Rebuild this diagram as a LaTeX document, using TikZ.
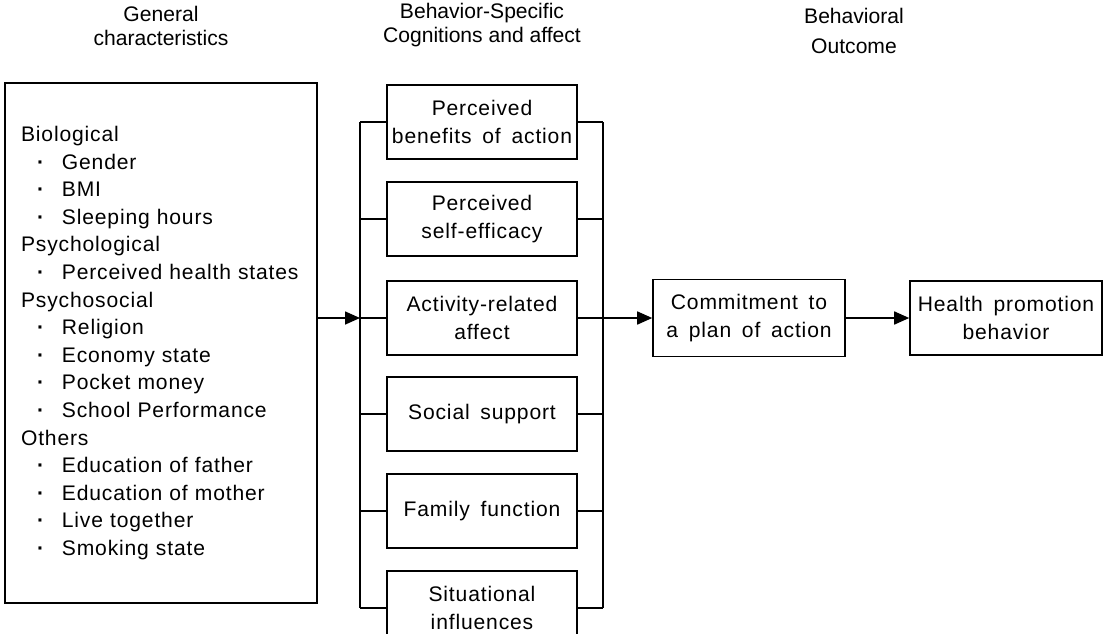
\documentclass[tikz,border=0pt]{standalone}
\usepackage{fontspec}
\setmainfont{Liberation Sans}
\newfontfamily\boxfont{Liberation Sans}[LetterSpace=4, WordSpace=1.6]
\usetikzlibrary{arrows.meta}
\tikzset{
  box/.style={draw, line width=0.032cm, minimum width=3.8cm, minimum height=1.48cm,
    align=center, inner sep=0pt, font=\boxfont\fontsize{12}{15.7}\selectfont},
  heading/.style={align=center, font=\fontsize{12}{13.2}\selectfont},
  link/.style={line width=0.032cm},
  arrowlink/.style={link, -{Triangle[length=0.3cm,width=0.26cm]}}
}
\newcommand{\itm}[1]{\hspace*{0.32cm}\textbf{·}\hspace{0.34cm}#1}
\begin{document}
\begin{tikzpicture}[x=0.02cm, y=-0.02cm]
                \useasboundingbox (0,0) rectangle (1106,633);
                
                % Headings
                \node [heading] (h general) at (161,26) {General\\characteristics};
                \node [heading] (h specific) at (482,25) {Behavior-Specific\\Cognitions and affect};
                \node [heading, font=\fontsize{12}{17}\selectfont] (h outcome) at (854,31) {Behavioral\\Outcome};
                
                % Drawing box of general characteristics
                \node [box, minimum width=6.24cm, minimum height=10.4cm, text width=5.6cm, align=left] (general) at (161,343)
                  {Biological\\ \itm{Gender}\\ \itm{BMI}\\ \itm{Sleeping hours}\\
                   Psychological\\ \itm{Perceived health states}\\
                   Psychosocial\\ \itm{Religion}\\ \itm{Economy state}\\ \itm{Pocket money}\\ \itm{School Performance}\\
                   Others\\ \itm{Education of father}\\ \itm{Education of mother}\\ \itm{Live together}\\ \itm{Smoking state}};
                
                % Drawing boxes of cognitions and affect
                \node [box] (benefits) at (482,122) {Perceived\\benefits of action};
                \node [box] (efficacy) at (482,219) {Perceived\\self-efficacy};
                \node [box] (affect) at (482,318) {Activity-related\\affect};
                \node [box] (support) at (482,414) {Social support};
                \node [box] (family) at (482,511) {Family function};
                \node [box] (situation) at (482,608) {Situational\\influences};
                
                % Drawing boxes of outcome
                \node [box, minimum width=3.84cm, minimum height=1.54cm] (plan) at (749,318) {Commitment to\\a plan of action};
                \node [box, minimum width=3.84cm] (health) at (1006,318) {Health promotion\\behavior};
                
                % Drawing brackets
                \coordinate (bl top) at (360,122);
                \coordinate (bl bot) at (360,608);
                \coordinate (br top) at (603,122);
                \coordinate (br bot) at (603,608);
                \draw [link] (bl top) -- (bl bot);
                \draw [link] (br top) -- (br bot);
                \foreach \b in {benefits,efficacy,affect,support,family,situation}
                {
                  \draw [link] (\b.west) -- (\b.west -| bl top);
                  \draw [link] (\b.east) -- (\b.east -| br top);
                }
                
                % Drawing arrows
                \draw [arrowlink] (general.east |- affect.west) -- (bl top |- affect.west);
                \draw [arrowlink] (br top |- affect.east) -- (plan.west);
                \draw [arrowlink] (plan.east) -- (health.west);
\end{tikzpicture}
\end{document}
